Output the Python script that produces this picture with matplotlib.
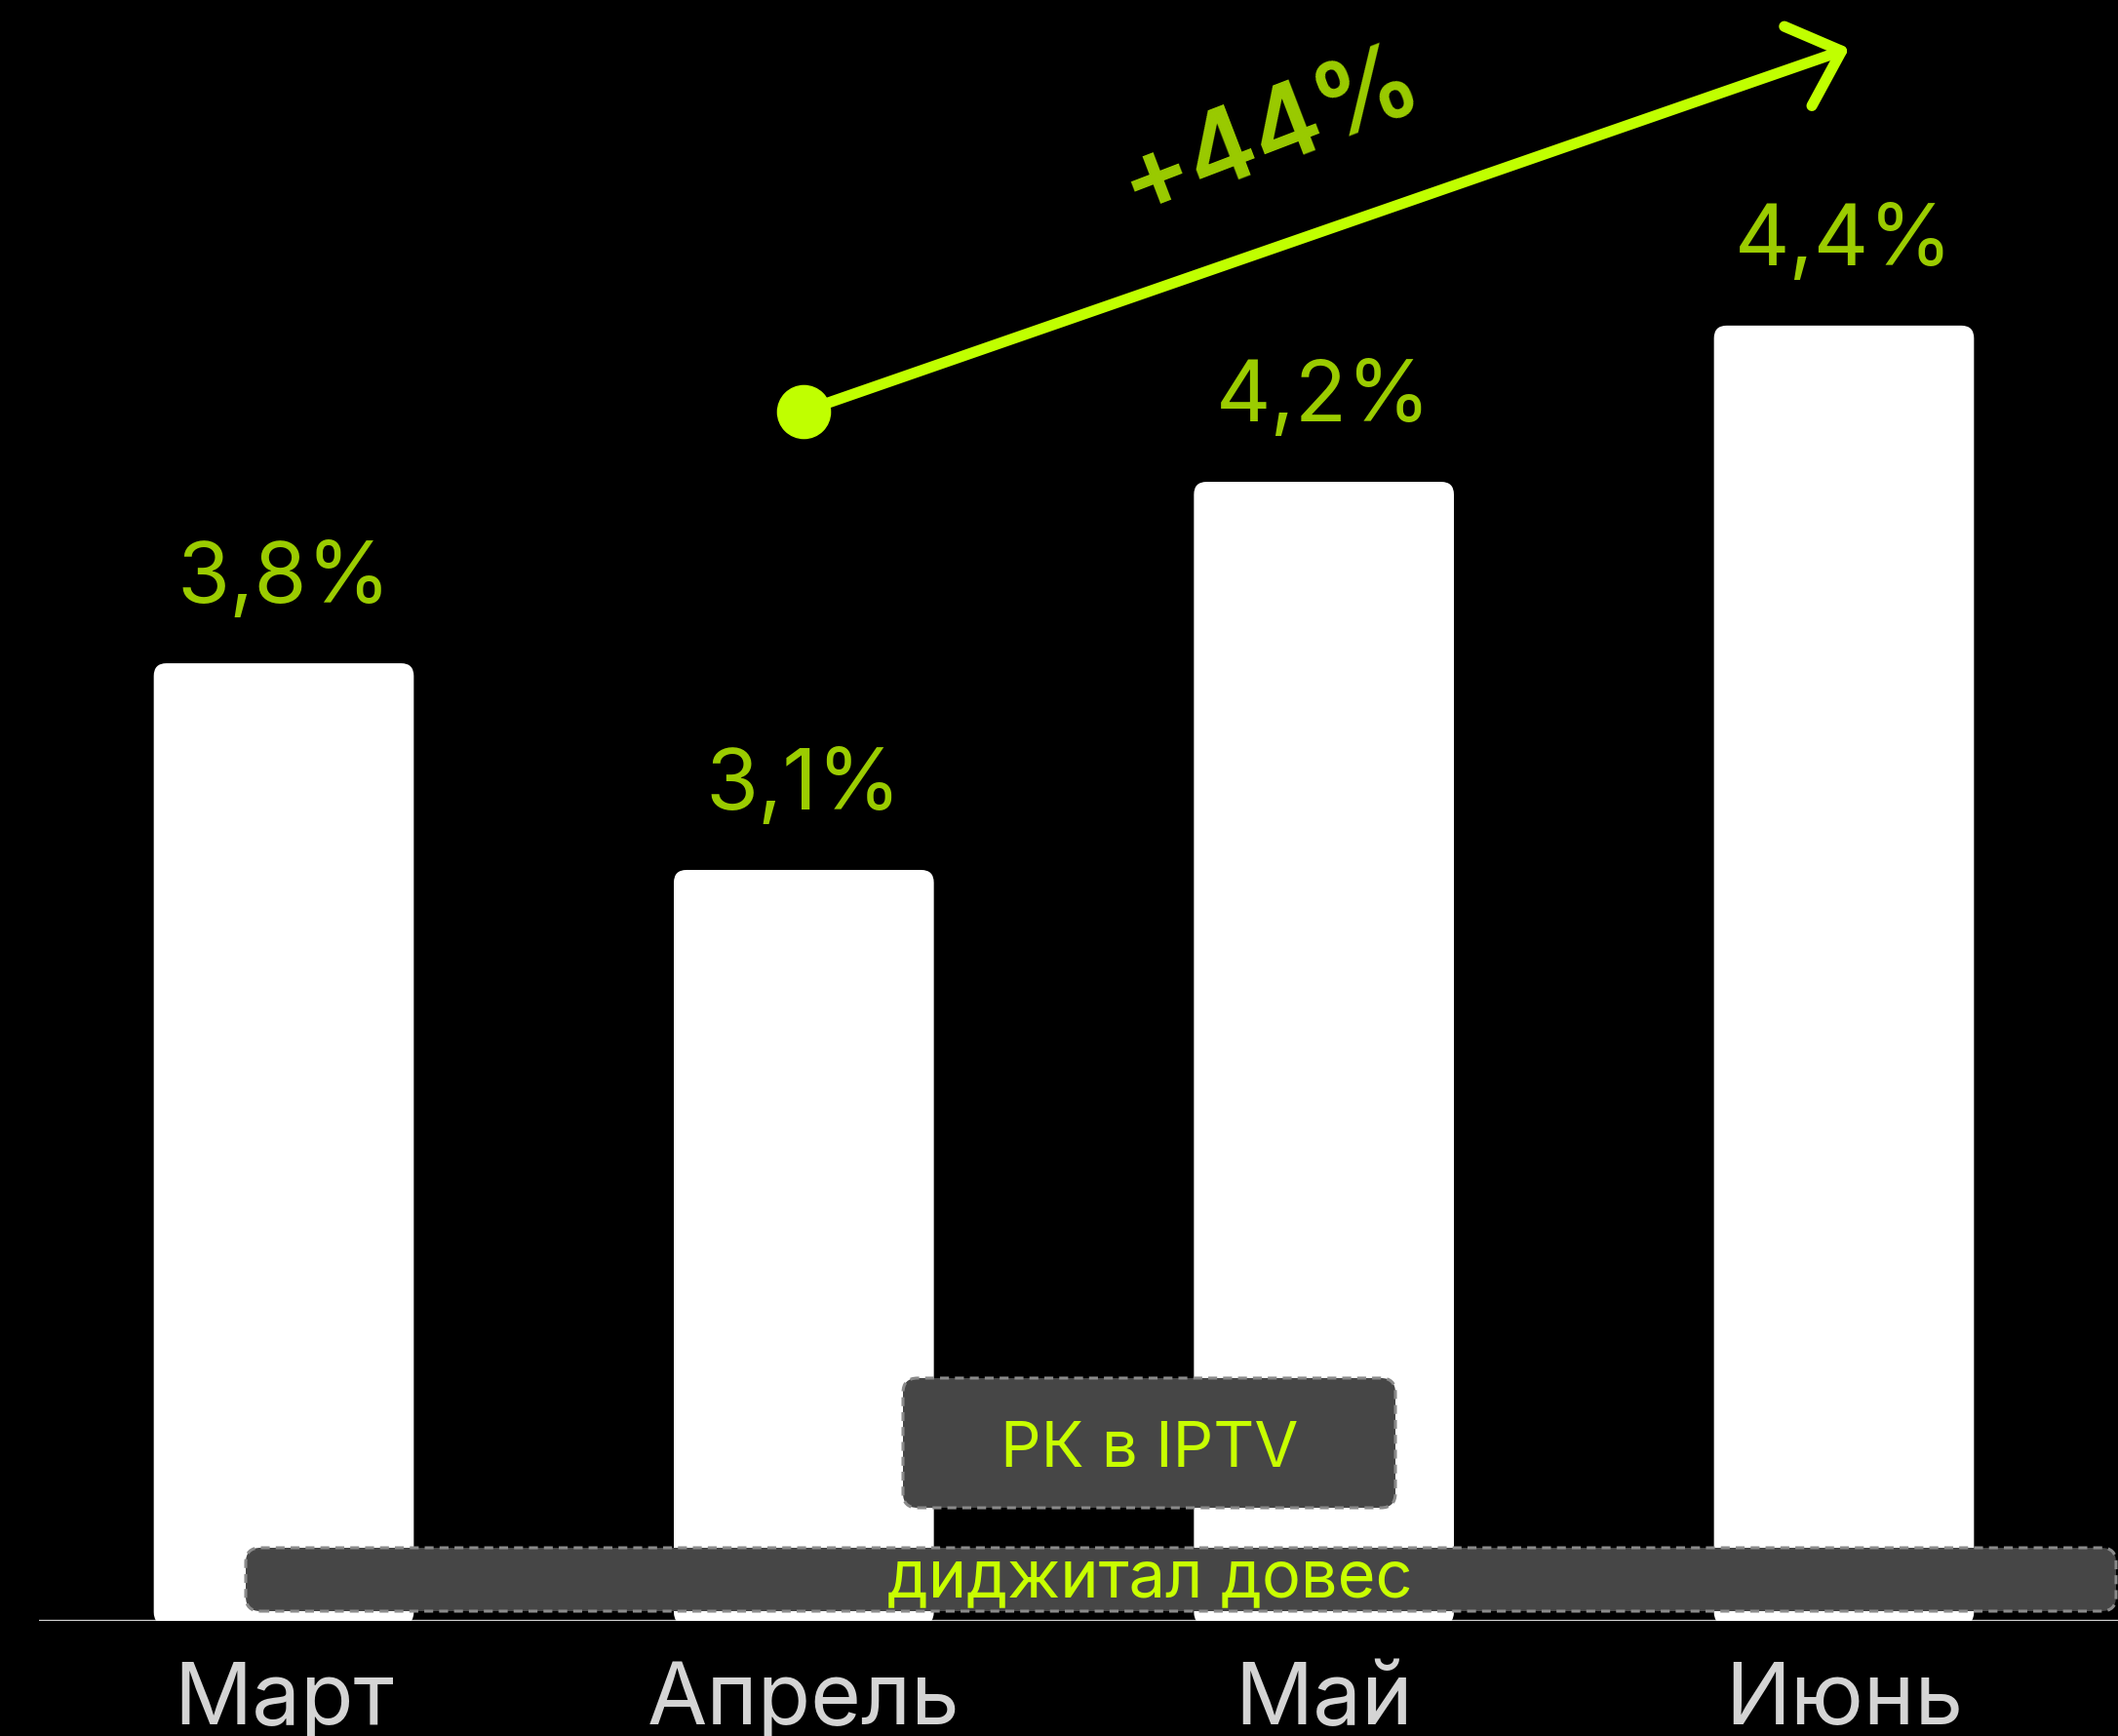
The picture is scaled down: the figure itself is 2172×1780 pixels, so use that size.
import matplotlib
matplotlib.use("Agg")
import matplotlib.pyplot as plt
from matplotlib.patches import FancyBboxPatch, FancyArrowPatch, ArrowStyle

plt.rcParams["font.family"] = ["Inter", "DejaVu Sans"]

# данные
months = ["Март", "Апрель", "Май", "Июнь"]
bar_heights = [3.8, 2.98, 4.52, 5.14]      # высота столбцов, как на картинке
value_labels = ["3,8%", "3,1%", "4,2%", "4,4%"]
growth_label = "+44%"
growth_from = (1, 4.80)                     # точка над апрелем
growth_to = (3.01, 6.24)                    # конец стрелки над июнем
box_labels = ["РК в IPTV", "диджитал довес"]

W, H = 2172, 1780
fig = plt.figure(figsize=(W / 100, H / 100), dpi=100, facecolor="black")

px_x = 533.3     # пикселей на одну категорию
px_y = 258.4     # пикселей на единицу высоты
left, base = 40, 118
ax = fig.add_axes([left / W, base / H, (W - left) / W, (H - base) / H])
ax.set_facecolor("black")
ax.set_xlim(-(291 - left) / px_x, 3 + (W - 1891) / px_x)
ax.set_ylim(0, (H - base) / px_y)
ax.axis("off")

x = list(range(len(months)))
bars = ax.bar(x, bar_heights, width=0.5, color="white")

# скруглённые столбцы вместо обычных
below = 4 / px_y
for b in bars:
    b.set_visible(False)
    p = FancyBboxPatch((b.get_x(), -below), b.get_width(), b.get_height() + below,
                       boxstyle="round,pad=0,rounding_size=%f" % (13 / px_x),
                       mutation_aspect=px_x / px_y,
                       facecolor="white", edgecolor="none", zorder=3)
    ax.add_patch(p)

ax.axhline(0, color="#d0d0d0", lw=2.4, zorder=2)

for xi, h, lab in zip(x, bar_heights, value_labels):
    ax.annotate(lab, (xi, h), xytext=(0, 62 * 0.72), textcoords="offset points",
                ha="center", va="baseline", fontsize=63, color="#9bcc00")

for xi, m in zip(x, months):
    ax.text(xi, -106 / px_y, m, ha="center", va="baseline",
            fontsize=64, color="#d4d4d4")

# стрелка роста
arrow = FancyArrowPatch(growth_from, growth_to,
                        arrowstyle=ArrowStyle("->", head_length=34, head_width=31),
                        mutation_scale=1, lw=8, color="#c0ff00",
                        capstyle="round", joinstyle="round",
                        shrinkA=0, shrinkB=0, zorder=4)
ax.add_patch(arrow)
ax.plot(*growth_from, "o", ms=39, color="#c0ff00", zorder=5)
ax.text(1.898, 5.90, growth_label, rotation=21, rotation_mode="anchor",
        ha="center", va="center", fontsize=77, fontweight="semibold",
        color="#9bcc00")


# плашки снизу
def box(x0, y0, x1, y1):
    p = FancyBboxPatch((x0 / W, 1 - y1 / H), (x1 - x0) / W, (y1 - y0) / H,
                       boxstyle="round,pad=0,rounding_size=%f" % (15 / W),
                       mutation_aspect=W / H, transform=fig.transFigure,
                       facecolor="#464646", edgecolor="#8a8a8a", lw=2.2,
                       linestyle=(0, (3, 2)), zorder=6)
    fig.patches.append(p)


box(926, 1413, 1431, 1546)
box(252, 1587, 2170, 1652)
fig.text(1179 / W, 1 - 1504 / H, box_labels[0], ha="center", va="baseline",
         fontsize=47, color="#c8ff00", zorder=7)
fig.text(1179 / W, 1 - 1637 / H, box_labels[1], ha="center", va="baseline",
         fontsize=48, color="#c8ff00", zorder=7)

plt.savefig("out.png", dpi=100, facecolor="black")
